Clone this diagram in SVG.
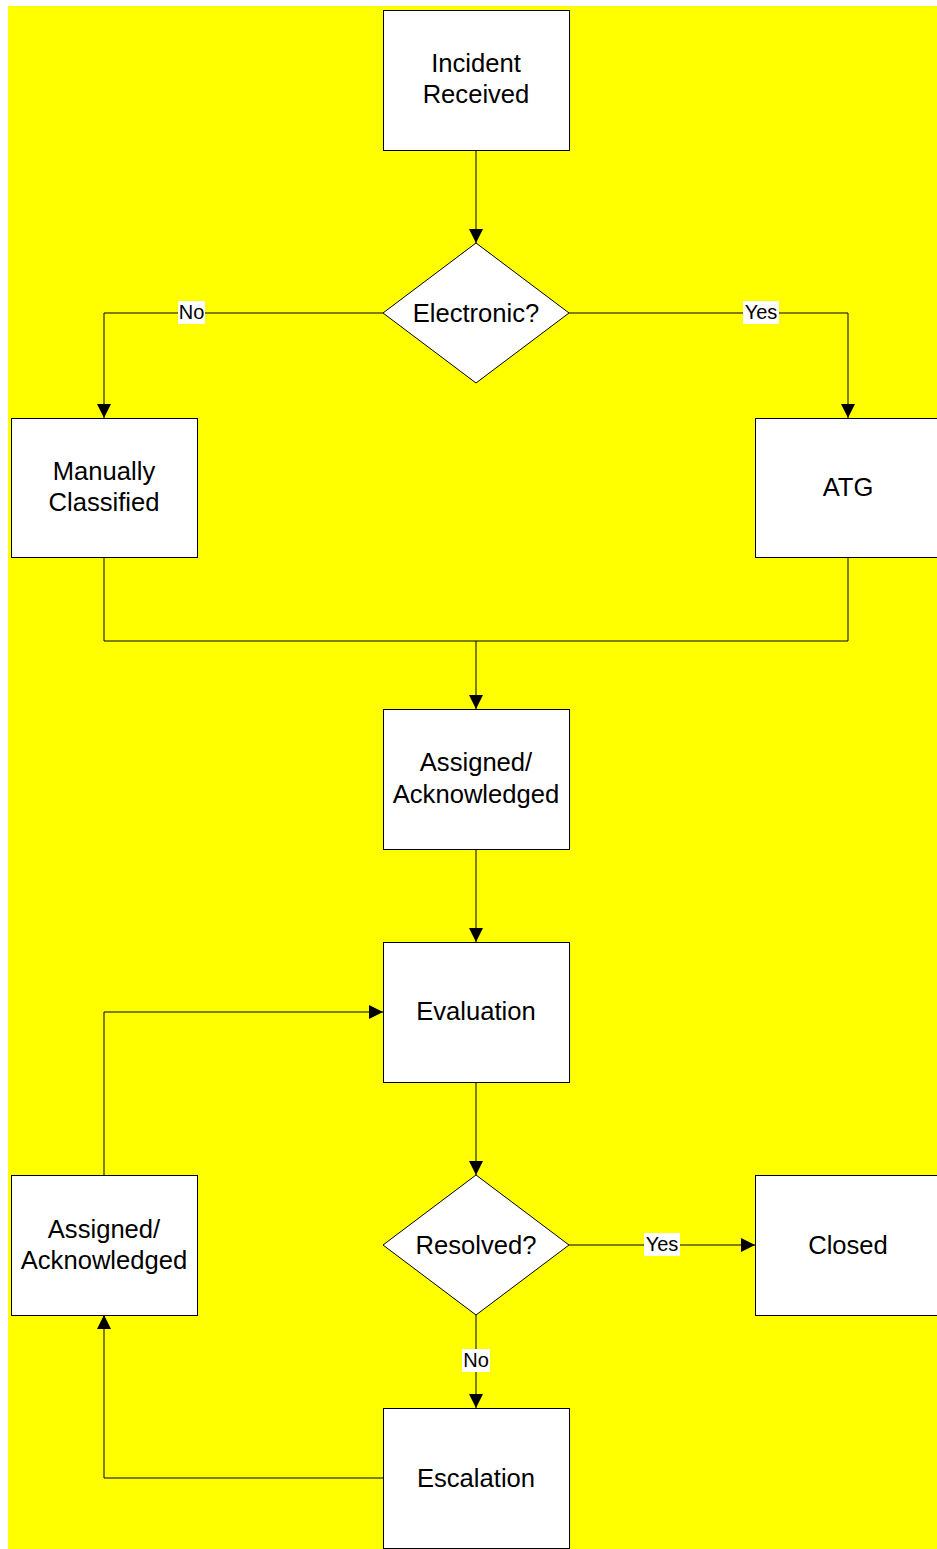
<svg xmlns="http://www.w3.org/2000/svg" width="937" height="1549" viewBox="0 0 937 1549">
<defs>
<style>
.n{fill:#fff;stroke:#000;stroke-width:1}
.t{font-family:"Liberation Sans",Arial,sans-serif;font-size:25.6px;fill:#000;text-anchor:middle}
.c{fill:none;stroke:#000;stroke-width:1}
.lb{fill:#fff}
.l{font-family:"Liberation Sans",Arial,sans-serif;font-size:20px;fill:#000;text-anchor:middle}
</style>
<marker id="a" viewBox="0 0 10 10" refX="10" refY="5" markerWidth="14" markerHeight="14" markerUnits="userSpaceOnUse" orient="auto"><path d="M0,0L10,5L0,10z" fill="#000"/></marker>
</defs>
<rect x="0" y="0" width="937" height="1549" fill="#fff"/>
<rect x="8" y="6" width="929" height="1543" fill="#ffff00"/>
<g id="connectors">
<path class="c" d="M476,150V243" marker-end="url(#a)"/>
<path class="c" d="M383,313H104V418" marker-end="url(#a)"/>
<path class="c" d="M569,313H848V418" marker-end="url(#a)"/>
<path class="c" d="M104,557V641H848V557"/>
<path class="c" d="M476,641V709" marker-end="url(#a)"/>
<path class="c" d="M476,849V942" marker-end="url(#a)"/>
<path class="c" d="M104,1175V1012H383" marker-end="url(#a)"/>
<path class="c" d="M476,1082V1175" marker-end="url(#a)"/>
<path class="c" d="M569,1245H755" marker-end="url(#a)"/>
<path class="c" d="M476,1315V1408" marker-end="url(#a)"/>
<path class="c" d="M383,1478H104V1315" marker-end="url(#a)"/>
<rect class="lb" x="178" y="301" width="27" height="23"/>
<text class="l" x="191.5" y="319">No</text>
<rect class="lb" x="743" y="301" width="36" height="23"/>
<text class="l" x="761" y="319">Yes</text>
<rect class="lb" x="644" y="1233" width="36" height="23"/>
<text class="l" x="662" y="1251">Yes</text>
<rect class="lb" x="462" y="1349" width="28" height="23"/>
<text class="l" x="476" y="1367">No</text>
</g>
<g id="incident"><rect class="n" x="383.5" y="10.5" width="186" height="140"/><text class="t" x="476" y="72">Incident</text><text class="t" x="476" y="103">Received</text></g>
<g id="electronic"><path class="n" d="M476,243L569,313L476,383L383,313z"/><text class="t" x="476" y="322">Electronic?</text></g>
<g id="manual"><rect class="n" x="11.5" y="418.5" width="186" height="139"/><text class="t" x="104" y="480">Manually</text><text class="t" x="104" y="511">Classified</text></g>
<g id="atg"><rect class="n" x="755.5" y="418.5" width="186" height="139"/><text class="t" x="848" y="496">ATG</text></g>
<g id="assigned1"><rect class="n" x="383.5" y="709.5" width="186" height="140"/><text class="t" x="476" y="771">Assigned/</text><text class="t" x="476" y="803">Acknowledged</text></g>
<g id="evaluation"><rect class="n" x="383.5" y="942.5" width="186" height="140"/><text class="t" x="476" y="1020">Evaluation</text></g>
<g id="resolved"><path class="n" d="M476,1175L569,1245L476,1315L383,1245z"/><text class="t" x="476" y="1254">Resolved?</text></g>
<g id="closed"><rect class="n" x="755.5" y="1175.5" width="186" height="140"/><text class="t" x="848" y="1254">Closed</text></g>
<g id="assigned2"><rect class="n" x="11.5" y="1175.5" width="186" height="140"/><text class="t" x="104" y="1238">Assigned/</text><text class="t" x="104" y="1269">Acknowledged</text></g>
<g id="escalation"><rect class="n" x="383.5" y="1408.5" width="186" height="140"/><text class="t" x="476" y="1487">Escalation</text></g>
</svg>
